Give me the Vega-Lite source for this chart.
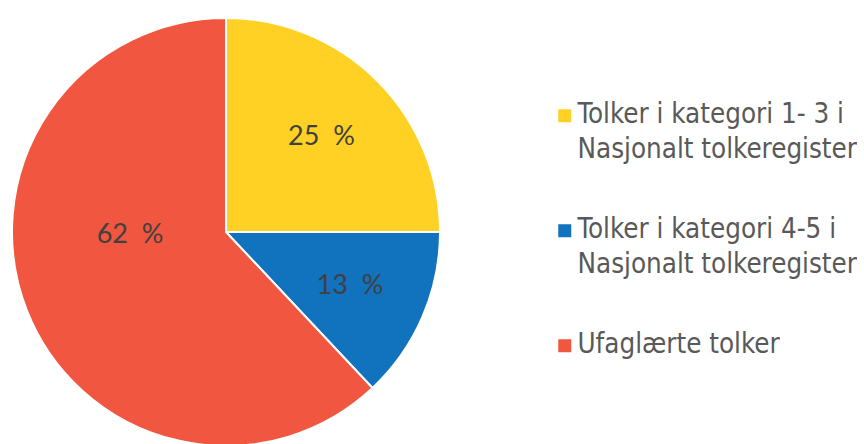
{
  "$schema": "https://vega.github.io/schema/vega-lite/v6.json",
  "width": 452,
  "height": 444,
  "padding": 0,
  "autosize": {"type": "pad"},
  "background": "white",
  "config": {"view": {"stroke": null}, "style": {"guide-label": {"lineHeight": 35, "dy": 7}}},
  "data": {"values": [
    {"category": "Tolker i kategori 1- 3 i Nasjonalt tolkeregister", "value": 25, "order": 1},
    {"category": "Tolker i kategori 4-5 i Nasjonalt tolkeregister", "value": 13, "order": 2},
    {"category": "Ufaglærte tolker", "value": 62, "order": 3}
  ]},
  "transform": [
    {"stack": "value", "groupby": [], "sort": [{"field": "order", "order": "ascending"}], "as": ["v0", "v1"]},
    {"calculate": "(datum.v0 + datum.v1) / 2", "as": "mid"},
    {"calculate": "datum.value + '\u00a0\u00a0%'", "as": "label"}
  ],
  "layer": [
    {
      "mark": {"type": "arc", "outerRadius": 214, "stroke": "white", "strokeWidth": 2, "yOffset": 10},
      "encoding": {
        "theta": {"field": "v0", "type": "quantitative", "scale": {"domain": [0, 100]}, "stack": null},
        "theta2": {"field": "v1"},
        "color": {
          "field": "category", "type": "nominal",
          "scale": {
            "domain": ["Tolker i kategori 1- 3 i Nasjonalt tolkeregister", "Tolker i kategori 4-5 i Nasjonalt tolkeregister", "Ufaglærte tolker"],
            "range": ["#FFD124", "#1172BE", "#F05640"]
          },
          "legend": {
            "orient": "none", "legendX": 551, "legendY": 102, "padding": 0,
            "title": null, "symbolType": "square", "symbolSize": 169, "symbolStrokeWidth": 0,
            "labelFont": "DejaVu Sans Condensed", "labelFontSize": 27.5, "labelColor": "#595959",
            "labelLimit": 0, "labelOffset": -1, "rowPadding": 51, "labelBaseline": "alphabetic",
            "labelExpr": "split(replace(datum.label, ' Nasjonalt', '|Nasjonalt'), '|')"
          }
        }
      }
    },
    {
      "transform": [{"filter": "datum.order < 3"}],
      "mark": {"type": "text", "radius": 135, "yOffset": 10, "font": "Lato", "fontSize": 27, "color": "#404040"},
      "encoding": {
        "theta": {"field": "mid", "type": "quantitative", "stack": null},
        "text": {"field": "label"}
      }
    },
    {
      "transform": [{"filter": "datum.order == 3"}],
      "mark": {"type": "text", "radius": 96, "thetaOffset": 0.346, "yOffset": 10, "font": "Lato", "fontSize": 27, "color": "#404040"},
      "encoding": {
        "theta": {"field": "mid", "type": "quantitative", "stack": null},
        "text": {"field": "label"}
      }
    }
  ]
}
